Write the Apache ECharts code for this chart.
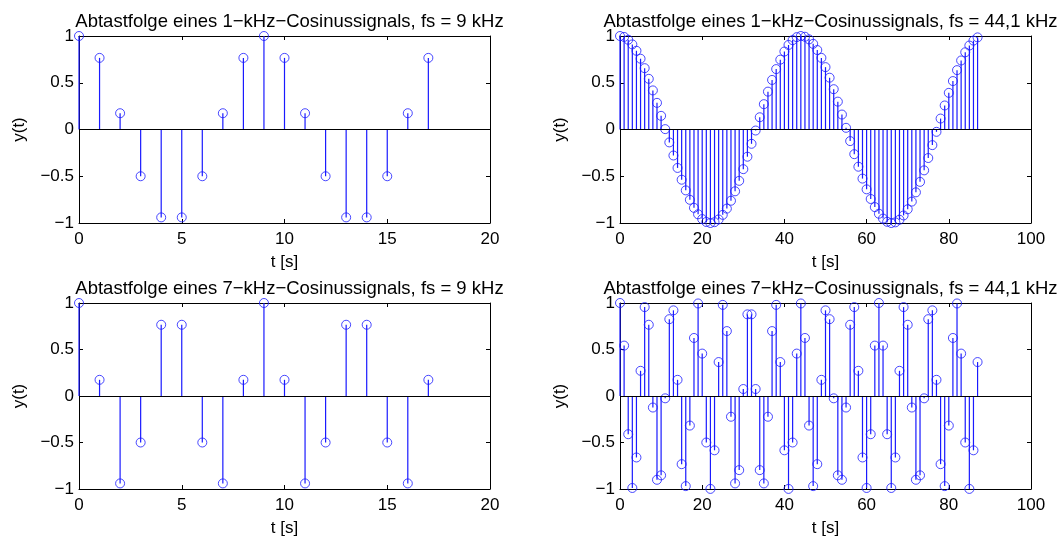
<!DOCTYPE html>
<html>
<head>
<meta charset="utf-8">
<script src="https://cdn.jsdelivr.net/npm/echarts@6/dist/echarts.min.js"></script>
<style>
  html, body { margin: 0; padding: 0; background: #fff; }
  #chart { width: 1058px; height: 540px; }
</style>
</head>
<body>
<div id="chart"></div>
<script>
// sample values (sample index n = 0, 1, 2, ...)
const titles = [
  "Abtastfolge eines 1\u2212kHz\u2212Cosinussignals, fs = 9 kHz",
  "Abtastfolge eines 1\u2212kHz\u2212Cosinussignals, fs = 44,1 kHz",
  "Abtastfolge eines 7\u2212kHz\u2212Cosinussignals, fs = 9 kHz",
  "Abtastfolge eines 7\u2212kHz\u2212Cosinussignals, fs = 44,1 kHz"
];

const y1k9 = [1, 0.766, 0.174, -0.5, -0.94, -0.94, -0.5, 0.174, 0.766,
  1, 0.766, 0.174, -0.5, -0.94, -0.94, -0.5, 0.174, 0.766];

const y7k9 = [1, 0.174, -0.94, -0.5, 0.766, 0.766, -0.5, -0.94, 0.174,
  1, 0.174, -0.94, -0.5, 0.766, 0.766, -0.5, -0.94, 0.174];

const y1k44 = [1, 0.99, 0.96, 0.91, 0.842, 0.757, 0.656, 0.542, 0.418, 0.285,
  0.146, 0.004, -0.138, -0.278, -0.411, -0.537, -0.651, -0.752, -0.838, -0.907,
  -0.958, -0.989, -1, -0.991, -0.962, -0.913, -0.846, -0.762, -0.661, -0.549,
  -0.424, -0.291, -0.153, -0.011, 0.131, 0.271, 0.405, 0.53, 0.646, 0.747,
  0.834, 0.904, 0.956, 0.988, 1, 0.992, 0.964, 0.916, 0.85, 0.766,
  0.667, 0.554, 0.431, 0.298, 0.16, 0.018, -0.124, -0.264, -0.398, -0.525,
  -0.64, -0.743, -0.83, -0.901, -0.953, -0.987, -1, -0.993, -0.965, -0.919,
  -0.853, -0.771, -0.672, -0.56, -0.437, -0.305, -0.167, -0.025, 0.117, 0.257,
  0.392, 0.518, 0.635, 0.738, 0.826, 0.898, 0.951, 0.985];

const y7k44 = [1, 0.542, -0.411, -0.989, -0.661, 0.271, 0.956, 0.766, -0.124, -0.901,
  -0.853, -0.025, 0.826, 0.921, 0.174, -0.733, -0.969, -0.318, 0.624, 0.995,
  0.456, -0.5, -0.999, -0.584, 0.365, 0.98, 0.698, -0.223, -0.94, -0.797,
  0.075, 0.878, 0.878, 0.075, -0.797, -0.94, -0.223, 0.698, 0.98, 0.365,
  -0.584, -0.999, -0.5, 0.456, 0.995, 0.624, -0.318, -0.969, -0.733, 0.174,
  0.921, 0.826, -0.025, -0.853, -0.901, -0.124, 0.766, 0.956, 0.271, -0.661,
  -0.989, -0.411, 0.542, 1, 0.542, -0.411, -0.989, -0.661, 0.271, 0.956,
  0.766, -0.124, -0.901, -0.853, -0.025, 0.826, 0.921, 0.174, -0.733, -0.969,
  -0.318, 0.624, 0.995, 0.456, -0.5, -0.999, -0.584, 0.365];

const panelData = [y1k9, y1k44, y7k9, y7k44];
const xMax = [20, 100, 20, 100];
const xStep = [5, 20, 5, 20];

const FONT = "Liberation Sans";
const BLUE = "#1a1aff";

const grids = [
  { left: 79, top: 36, width: 411, height: 187 },
  { left: 620, top: 36, width: 411, height: 187 },
  { left: 79, top: 303, width: 411, height: 186 },
  { left: 620, top: 303, width: 411, height: 186 }
];

const minus = (v) => String(v).replace("-", "\u2212");

const xAxis = [];
const yAxis = [];
const series = [];
const title = [];

grids.forEach((g, i) => {
  title.push({
    text: titles[i],
    left: g.left + g.width / 2,
    top: g.top - 29,
    textAlign: "center",
    textStyle: { fontFamily: FONT, fontSize: 18.5, fontWeight: "normal", color: "#000" }
  });

  const common = {
    gridIndex: i,
    type: "value",
    axisLine: { show: true, onZero: false, lineStyle: { color: "#000", width: 1 } },
    axisTick: { show: true, inside: true, length: 4, lineStyle: { color: "#000" } },
    splitLine: { show: false }
  };

  // bottom x axis with labels
  xAxis.push(Object.assign({}, common, {
    position: "bottom",
    min: 0, max: xMax[i], interval: xStep[i],
    name: "t [s]",
    nameLocation: "middle",
    nameGap: 31,
    nameTextStyle: { fontFamily: FONT, fontSize: 17, color: "#000" },
    axisLabel: { fontFamily: FONT, fontSize: 17, color: "#000", margin: 8, formatter: minus }
  }));
  // top x axis (box + ticks)
  xAxis.push(Object.assign({}, common, {
    position: "top",
    min: 0, max: xMax[i], interval: xStep[i],
    axisLabel: { show: false }
  }));
  // left y axis with labels
  yAxis.push(Object.assign({}, common, {
    position: "left",
    min: -1, max: 1, interval: 0.5,
    name: "y(t)",
    nameLocation: "middle",
    nameGap: 51,
    nameRotate: 90,
    nameTextStyle: { fontFamily: FONT, fontSize: 17, color: "#000" },
    axisLabel: { fontFamily: FONT, fontSize: 17, color: "#000", margin: 5, formatter: minus }
  }));
  // right y axis (box + ticks)
  yAxis.push(Object.assign({}, common, {
    position: "right",
    min: -1, max: 1, interval: 0.5,
    axisLabel: { show: false }
  }));

  const pts = panelData[i].map((v, n) => [n, v]);

  // stems: vertical line from the zero baseline to each sample
  series.push({
    type: "custom",
    xAxisIndex: i * 2,
    yAxisIndex: i * 2,
    data: pts,
    silent: true,
    itemStyle: { color: BLUE },
    renderItem: (params, api) => {
      const p0 = api.coord([api.value(0), 0]);
      const p1 = api.coord([api.value(0), api.value(1)]);
      return {
        type: "line",
        shape: { x1: p0[0], y1: p0[1], x2: p1[0], y2: p1[1] },
        style: { stroke: BLUE, lineWidth: 1.2 }
      };
    },
    markLine: {
      silent: true,
      symbol: "none",
      label: { show: false },
      lineStyle: { color: "#000", width: 1, type: "solid" },
      data: [{ yAxis: 0 }],
      animation: false
    },
    animation: false,
    z: 2
  });
  series.push({
    type: "scatter",
    xAxisIndex: i * 2,
    yAxisIndex: i * 2,
    data: pts,
    symbol: "circle",
    symbolSize: 9,
    silent: true,
    itemStyle: { color: "transparent", borderColor: BLUE, borderWidth: 1 },
    animation: false,
    z: 3
  });
});

const chart = echarts.init(document.getElementById("chart"));
chart.setOption({
  backgroundColor: "#fff",
  animation: false,
  title: title,
  grid: grids.map((g) => Object.assign({ outerBoundsMode: "none" }, g)),
  xAxis: xAxis,
  yAxis: yAxis,
  series: series
});
</script>
</body>
</html>
